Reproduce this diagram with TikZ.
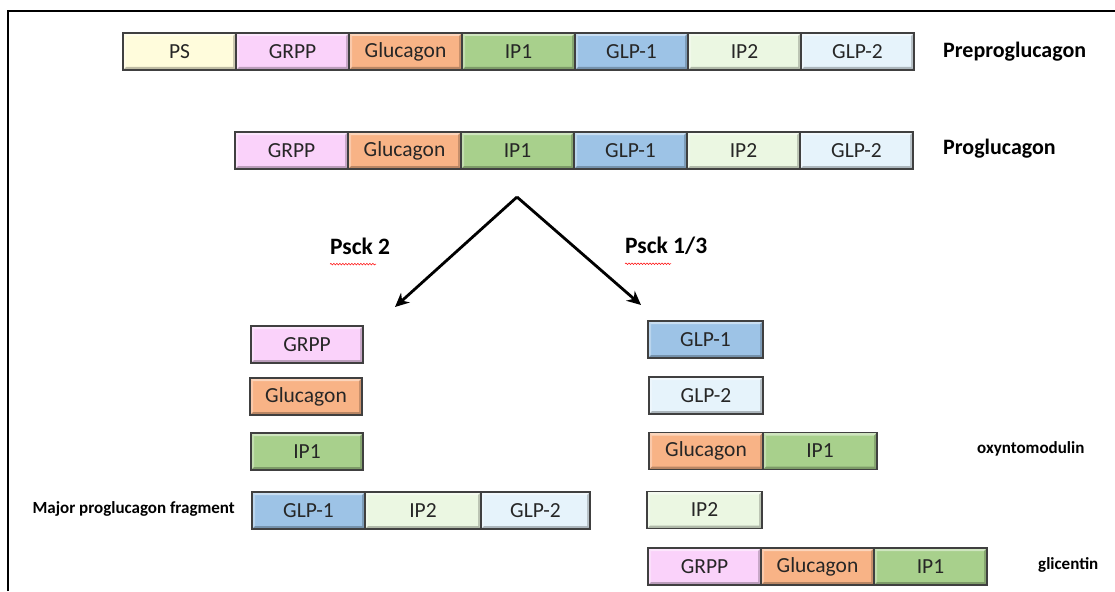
\documentclass[tikz,border=0pt]{standalone}
\usepackage{fontspec}
\setmainfont{Carlito}
\usetikzlibrary{arrows.meta,decorations.pathmorphing}
\definecolor{cPS}{HTML}{FFFCDC}
\definecolor{cGRPP}{HTML}{FAD2FA}
\definecolor{cGLUC}{HTML}{F8B386}
\definecolor{cIPone}{HTML}{A8D08C}
\definecolor{cGLPone}{HTML}{9DC3E6}
\definecolor{cIPtwo}{HTML}{EBF7E2}
\definecolor{cGLPtwo}{HTML}{E6F3FB}
\definecolor{cEdge}{HTML}{404040}
\tikzset{
  seg/.style={rectangle, draw=cEdge, line width=1.2pt, minimum width=113pt, minimum height=37pt,
    inner sep=0pt, outer sep=0pt, anchor=west, font=\fontsize{21.5}{23}\selectfont, text=black!85,
    path picture={
      \fill[white,opacity=0.45] (path picture bounding box.north west) -- (path picture bounding box.north east)
        -- ([xshift=-3pt,yshift=-3pt]path picture bounding box.north east) -- ([xshift=3pt,yshift=-3pt]path picture bounding box.north west) -- cycle;
      \fill[white,opacity=0.3] (path picture bounding box.north west) -- ([xshift=3pt,yshift=-3pt]path picture bounding box.north west)
        -- ([xshift=3pt,yshift=3pt]path picture bounding box.south west) -- (path picture bounding box.south west) -- cycle;
      \fill[black,opacity=0.25] (path picture bounding box.south west) -- (path picture bounding box.south east)
        -- ([xshift=-3pt,yshift=3pt]path picture bounding box.south east) -- ([xshift=3pt,yshift=3pt]path picture bounding box.south west) -- cycle;
      \fill[black,opacity=0.2] (path picture bounding box.north east) -- (path picture bounding box.south east)
        -- ([xshift=-3pt,yshift=3pt]path picture bounding box.south east) -- ([xshift=-3pt,yshift=-3pt]path picture bounding box.north east) -- cycle;
    }},
  ps/.style={seg, fill=cPS},
  grpp/.style={seg, fill=cGRPP},
  gluc/.style={seg, fill=cGLUC},
  ipone/.style={seg, fill=cIPone},
  glpone/.style={seg, fill=cGLPone},
  iptwo/.style={seg, fill=cIPtwo},
  glptwo/.style={seg, fill=cGLPtwo},
  biglabel/.style={inner sep=0pt, anchor=west, font=\fontsize{22}{24}\selectfont\bfseries},
  psck/.style={inner sep=0pt, anchor=west, font=\fontsize{23.5}{25}\selectfont\bfseries},
  smalllabel/.style={inner sep=0pt, font=\fontsize{17}{19}\selectfont\bfseries},
  cut/.style={line width=2.8pt, -{Stealth[length=14pt,width=13pt]}},
  squiggle/.style={red, line width=0.5pt, decorate, decoration={snake, segment length=3pt, amplitude=0.8pt}}
}
\begin{document}
\begin{tikzpicture}[x=1pt,y=-1pt]
\useasboundingbox (0,0) rectangle (1115,591);
% frame
\draw[line width=1.5pt] (8,591) -- (8,11) -- (1115,11);
% Preproglucagon
\node[ps] (a1) at (123,51.5) {PS};
\node[grpp] (a2) at (a1.east) {GRPP};
\node[gluc] (a3) at (a2.east) {Glucagon};
\node[ipone] (a4) at (a3.east) {IP1};
\node[glpone] (a5) at (a4.east) {GLP-1};
\node[iptwo] (a6) at (a5.east) {IP2};
\node[glptwo] (a7) at (a6.east) {GLP-2};
\node[biglabel] (lpre) at (943,52) {Preproglucagon};
% Proglucagon
\node[grpp] (b1) at (235,150.5) {GRPP};
\node[gluc] (b2) at (b1.east) {Glucagon};
\node[ipone] (b3) at (b2.east) {IP1};
\node[glpone] (b4) at (b3.east) {GLP-1};
\node[iptwo] (b5) at (b4.east) {IP2};
\node[glptwo] (b6) at (b5.east) {GLP-2};
\node[biglabel] (lpro) at (943,149) {Proglucagon};
% arrows
\coordinate (apex) at (517,197);
\coordinate (lend) at (395,307);
\coordinate (rend) at (641,305);
\draw[cut] (apex) -- (lend);
\draw[cut] (apex) -- (rend);
\node[psck] (psck2) at (330,246) {Psck 2};
\node[psck] (psck13) at (625,246) {Psck 1/3};
\draw[squiggle] ([yshift=-10pt]psck2.base west) -- ([xshift=46pt,yshift=-10pt]psck2.base west);
\draw[squiggle] ([yshift=-10pt]psck13.base west) -- ([xshift=46pt,yshift=-10pt]psck13.base west);
% left products
\node[grpp, minimum width=112pt] (c1) at (251,344.5) {GRPP};
\node[gluc, minimum width=112pt] (c2) at (250,396.5) {Glucagon};
\node[ipone, minimum width=112pt] (c3) at (251,451.5) {IP1};
\node[glpone] (c4) at (252,510.5) {GLP-1};
\node[iptwo, minimum width=116pt] (c5) at (c4.east) {IP2};
\node[glptwo, minimum width=109pt] (c6) at (c5.east) {GLP-2};
\node[smalllabel, anchor=east] (lmaj) at (235,509) {Major proglucagon fragment};
% right products
\node[glpone, minimum width=115pt] (d1) at (648,339.5) {GLP-1};
\node[glptwo, minimum width=114pt] (d2) at (649,395.5) {GLP-2};
\node[gluc, minimum width=114pt] (d3) at (649,451) {Glucagon};
\node[ipone, minimum width=114pt] (d4) at (d3.east) {IP1};
\node[smalllabel, anchor=west] (loxy) at (977,449) {oxyntomodulin};
\node[iptwo, minimum width=115pt] (d5) at (647,510) {IP2};
\node[grpp] (d6) at (648,566.5) {GRPP};
\node[gluc] (d7) at (d6.east) {Glucagon};
\node[ipone] (d8) at (d7.east) {IP1};
\node[smalllabel, anchor=west] (lgli) at (1038,565) {glicentin};
\end{tikzpicture}
\end{document}
